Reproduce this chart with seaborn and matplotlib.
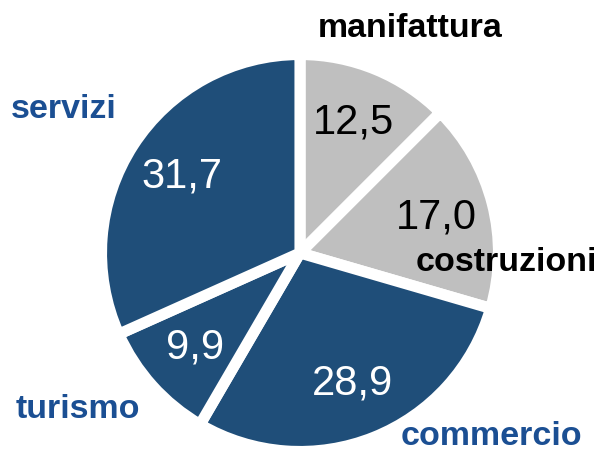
import matplotlib
matplotlib.use("Agg")
import matplotlib.pyplot as plt
import seaborn as sns

categories = ["manifattura", "costruzioni", "commercio", "turismo", "servizi"]
values = [12.5, 17.0, 28.9, 9.9, 31.7]
wedge_colors = ["#BFBFBF", "#BFBFBF", "#1F4E79", "#1F4E79", "#1F4E79"]
value_text_colors = ["black", "black", "white", "white", "white"]
label_colors = ["black", "black", "#1B4F93", "#1B4F93", "#1B4F93"]

sns.set_theme(style="white")
plt.rcParams["font.family"] = ["Liberation Sans", "DejaVu Sans"]

W, H = 601, 451
fig = plt.figure(figsize=(W / 100, H / 100), dpi=100)
ax = fig.add_axes([0, 0, 1, 1])

cx, cy, s = 300.0, 253.0, 198.5  # pixel centre and pixels per unit radius


def to_data(px, py):
    return (px - cx) / s, (cy - py) / s


wedges, texts, autotexts = ax.pie(
    values,
    colors=wedge_colors,
    startangle=90,
    counterclock=False,
    autopct=lambda p: f"{p:.1f}".replace(".", ","),
    pctdistance=0.71,
    wedgeprops=dict(edgecolor="white", linewidth=8, joinstyle="round"),
    textprops=dict(fontsize=30),
    radius=1.0,
    center=(0, 0),
    frame=False,
)
for t, c in zip(autotexts, value_text_colors):
    t.set_color(c)

# category label anchor positions (pixel coords: centre x, baseline y)
label_pos = [(410, 37), (506, 271), (491, 445), (78, 418), (64, 118)]
for name, col, (px, py) in zip(categories, label_colors, label_pos):
    x, y = to_data(px, py)
    ax.text(x, y, name, ha="center", va="baseline", fontsize=24.5,
            fontweight="bold", color=col)

ax.set_xlim(-cx / s, (W - cx) / s)
ax.set_ylim(-(H - cy) / s, cy / s)
ax.set_aspect("auto")
ax.axis("off")

fig.savefig("out.png", dpi=100)
